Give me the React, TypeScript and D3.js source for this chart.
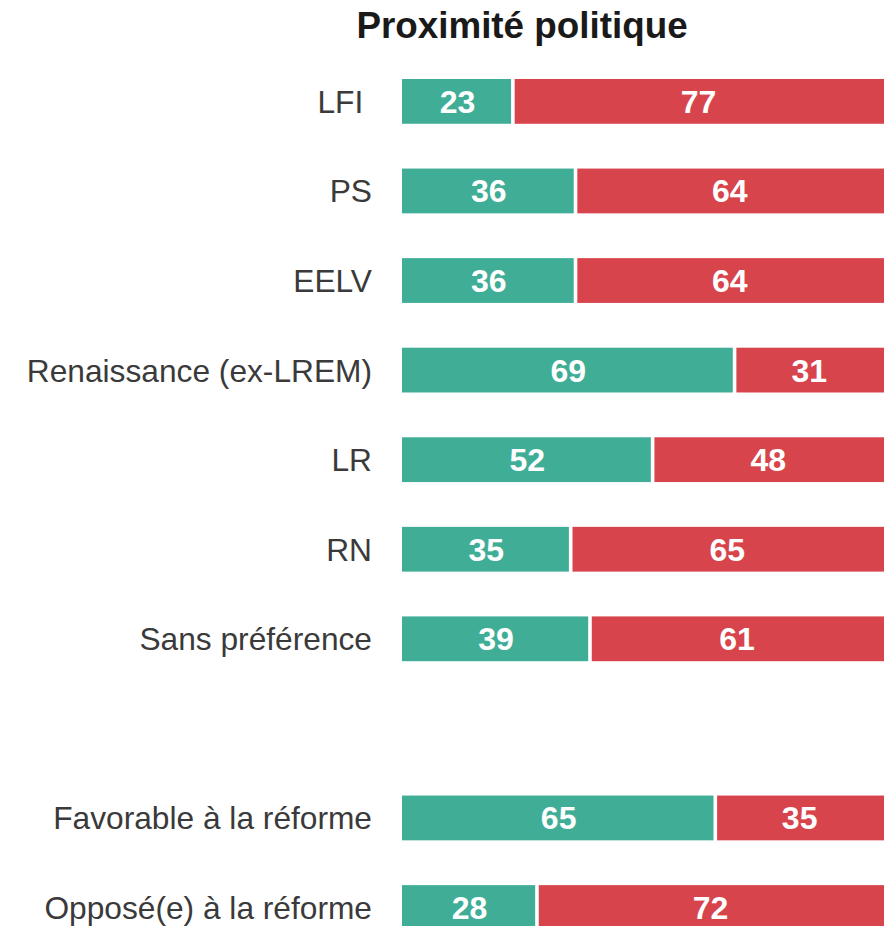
import React from "react";
import * as d3 from "d3";

const categories = [
  "LFI ",
  "PS",
  "EELV",
  "Renaissance (ex-LREM)",
  "LR",
  "RN",
  "Sans préférence",
  "",
  "Favorable à la réforme",
  "Opposé(e) à la réforme",
];
const favorable = [23, 36, 36, 69, 52, 35, 39, null, 65, 28];
const oppose = [77, 64, 64, 31, 48, 65, 61, null, 35, 72];
const title = "Proximité politique";

const W = 884;
const H = 926;
const GREEN = "#40ae97";
const RED = "#d8444c";

export default function App() {
  const x = d3.scaleLinear().domain([0, 100]).range([402, 884]);
  const y = d3
    .scaleBand<string>()
    .domain(categories)
    .range([56.6, 56.6 + 10 * 89.57])
    .paddingInner(0.5)
    .paddingOuter(0.25);
  const gap = 1.8;
  const bw = y.bandwidth();
  const labelFs = 31.7;
  const valFs = 32;

  return (
    <svg
      width={W}
      height={H}
      style={{ position: "absolute", left: 0, top: 0, fontFamily: "'Liberation Sans', Arial, sans-serif" }}
    >
      <rect width={W} height={H} fill="#ffffff" />
      <text x={522} y={38} textAnchor="middle" fontSize={36.8} fontWeight="bold" fill="#1a1a1a">
        {title}
      </text>
      {categories.map((c, i) => {
        const f = favorable[i];
        const o = oppose[i];
        if (f == null || o == null) return null;
        const y0 = y(c)!;
        const cy = y0 + bw / 2;
        const xf = x(f);
        const xe = x(f + o);
        return (
          <g key={c}>
            <text
              x={372}
              y={cy + labelFs * 0.36}
              textAnchor="end"
              fontSize={labelFs}
              fill="#3a3a3a"
              style={{ whiteSpace: "pre" }}
            >
              {c}
            </text>
            <rect x={x(0)} y={y0} width={xf - gap - x(0)} height={bw} fill={GREEN} />
            <rect x={xf + gap} y={y0} width={xe - xf - gap} height={bw} fill={RED} />
            <text
              x={(x(0) + xf) / 2}
              y={cy + valFs * 0.36}
              textAnchor="middle"
              fontSize={valFs}
              fontWeight="bold"
              fill="#ffffff"
            >
              {f}
            </text>
            <text
              x={(xf + xe) / 2}
              y={cy + valFs * 0.36}
              textAnchor="middle"
              fontSize={valFs}
              fontWeight="bold"
              fill="#ffffff"
            >
              {o}
            </text>
          </g>
        );
      })}
    </svg>
  );
}
